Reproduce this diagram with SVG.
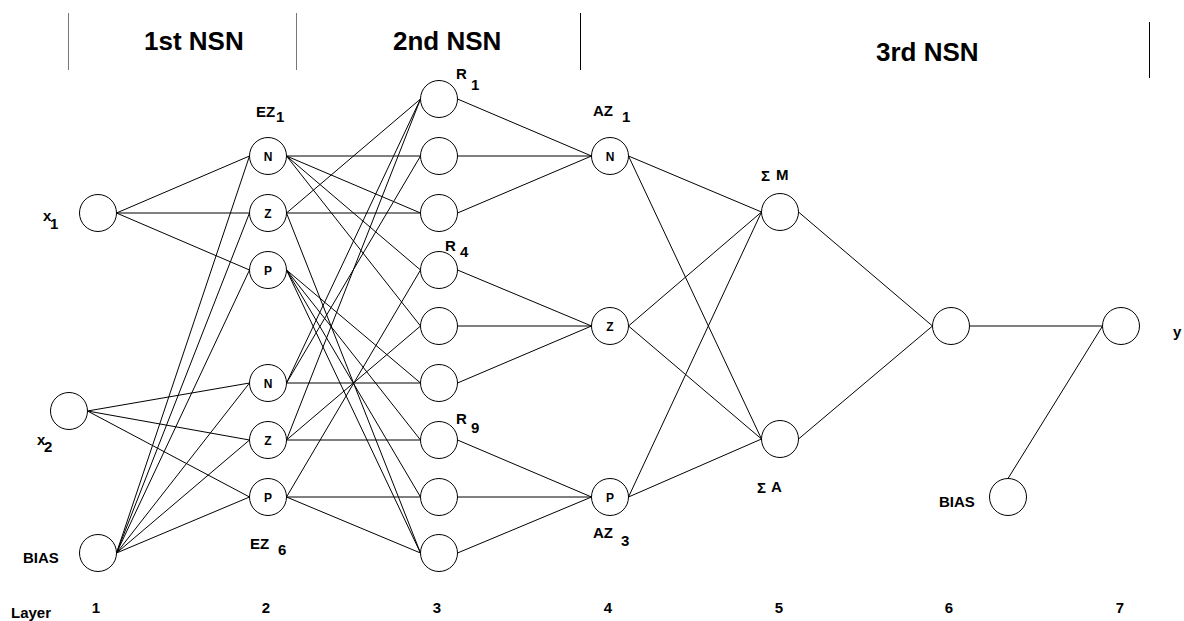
<svg xmlns="http://www.w3.org/2000/svg" width="1184" height="621" viewBox="0 0 1184 621">
  <style>
    .n { fill: #fff; stroke: #000; stroke-width: 1; }
    .c line { stroke: #000; stroke-width: 1; }
    text { font-family: "Liberation Sans", Arial, sans-serif; font-weight: bold; fill: #000; }
    .lb { font-size: 15px; }
    .in { font-size: 12px; text-anchor: middle; }
    .hd { font-size: 26px; }
    .num { font-size: 15px; text-anchor: middle; }
  </style>

  <!-- section dividers and headings -->
  <g id="header">
    <line x1="68.5" y1="13" x2="68.5" y2="70" stroke="#777" stroke-width="1"/>
    <line x1="296.5" y1="13" x2="296.5" y2="70" stroke="#777" stroke-width="1"/>
    <line x1="580.5" y1="13" x2="580.5" y2="70" stroke="#000" stroke-width="1"/>
    <line x1="1149.5" y1="22" x2="1149.5" y2="78" stroke="#000" stroke-width="1"/>
    <text class="hd" x="144" y="50">1st NSN</text>
    <text class="hd" x="393" y="50">2nd NSN</text>
    <text class="hd" x="876" y="61">3rd NSN</text>
  </g>

  <!-- connectors -->
  <g id="connectors" class="c">
    <!-- layer 1 to layer 2 -->
    <line x1="116.5" y1="213" x2="249.5" y2="156"/>
    <line x1="116.5" y1="213" x2="249.5" y2="213"/>
    <line x1="116.5" y1="213" x2="249.5" y2="270"/>
    <line x1="87.5" y1="411" x2="249.5" y2="383"/>
    <line x1="87.5" y1="411" x2="249.5" y2="440"/>
    <line x1="87.5" y1="411" x2="249.5" y2="497"/>
    <line x1="116.5" y1="553" x2="249.5" y2="156"/>
    <line x1="116.5" y1="553" x2="249.5" y2="213"/>
    <line x1="116.5" y1="553" x2="249.5" y2="270"/>
    <line x1="116.5" y1="553" x2="249.5" y2="383"/>
    <line x1="116.5" y1="553" x2="249.5" y2="440"/>
    <line x1="116.5" y1="553" x2="249.5" y2="497"/>
    <!-- layer 2 to layer 3 -->
    <line x1="286.5" y1="156" x2="420.5" y2="156"/>
    <line x1="286.5" y1="156" x2="420.5" y2="213"/>
    <line x1="286.5" y1="156" x2="420.5" y2="270"/>
    <line x1="286.5" y1="156" x2="420.5" y2="326"/>
    <line x1="286.5" y1="213" x2="420.5" y2="99"/>
    <line x1="286.5" y1="213" x2="420.5" y2="213"/>
    <line x1="286.5" y1="213" x2="420.5" y2="553"/>
    <line x1="286.5" y1="270" x2="420.5" y2="383"/>
    <line x1="286.5" y1="270" x2="420.5" y2="440"/>
    <line x1="286.5" y1="270" x2="420.5" y2="497"/>
    <line x1="286.5" y1="270" x2="420.5" y2="553"/>
    <line x1="286.5" y1="383" x2="420.5" y2="99"/>
    <line x1="286.5" y1="383" x2="420.5" y2="156"/>
    <line x1="286.5" y1="383" x2="420.5" y2="383"/>
    <line x1="286.5" y1="440" x2="420.5" y2="99"/>
    <line x1="286.5" y1="440" x2="420.5" y2="326"/>
    <line x1="286.5" y1="440" x2="420.5" y2="440"/>
    <line x1="286.5" y1="497" x2="420.5" y2="270"/>
    <line x1="286.5" y1="497" x2="420.5" y2="497"/>
    <line x1="286.5" y1="497" x2="420.5" y2="553"/>
    <!-- layer 3 to layer 4 -->
    <line x1="457.5" y1="99" x2="591.5" y2="156"/>
    <line x1="457.5" y1="156" x2="591.5" y2="156"/>
    <line x1="457.5" y1="213" x2="591.5" y2="156"/>
    <line x1="457.5" y1="270" x2="591.5" y2="326"/>
    <line x1="457.5" y1="326" x2="591.5" y2="326"/>
    <line x1="457.5" y1="383" x2="591.5" y2="326"/>
    <line x1="457.5" y1="440" x2="591.5" y2="497"/>
    <line x1="457.5" y1="497" x2="591.5" y2="497"/>
    <line x1="457.5" y1="553" x2="591.5" y2="497"/>
    <!-- layer 4 to layer 5 -->
    <line x1="628.5" y1="156" x2="761.5" y2="212"/>
    <line x1="628.5" y1="156" x2="761.5" y2="439"/>
    <line x1="628.5" y1="326" x2="761.5" y2="212"/>
    <line x1="628.5" y1="326" x2="761.5" y2="439"/>
    <line x1="628.5" y1="497" x2="761.5" y2="212"/>
    <line x1="628.5" y1="497" x2="761.5" y2="439"/>
    <!-- layer 5 to layer 6 to layer 7 -->
    <line x1="798.5" y1="212" x2="932.5" y2="326"/>
    <line x1="798.5" y1="439" x2="932.5" y2="326"/>
    <line x1="969.5" y1="326" x2="1102.5" y2="326"/>
    <line x1="1008" y1="478.5" x2="1102.5" y2="326"/>
  </g>

  <!-- layer 1 -->
  <g id="x1"><circle class="n" cx="98" cy="213" r="18.5"/>
    <text class="lb" x="43" y="221">x</text><text class="lb" x="50" y="229">1</text></g>
  <g id="x2"><circle class="n" cx="69" cy="411" r="18.5"/>
    <text class="lb" x="37" y="445">x</text><text class="lb" x="44" y="452">2</text></g>
  <g id="bias1"><circle class="n" cx="98" cy="553" r="18.5"/>
    <text class="lb" x="23" y="563">BIAS</text></g>

  <!-- layer 2 -->
  <g id="ez1n"><circle class="n" cx="268" cy="156" r="18.5"/><text class="in" x="268" y="160.5">N</text>
    <text class="lb" x="256" y="117">EZ</text><text class="lb" x="276" y="122">1</text></g>
  <g id="ez1z"><circle class="n" cx="268" cy="213" r="18.5"/><text class="in" x="268" y="217.5">Z</text></g>
  <g id="ez1p"><circle class="n" cx="268" cy="270" r="18.5"/><text class="in" x="268" y="274.5">P</text></g>
  <g id="ez2n"><circle class="n" cx="268" cy="383" r="18.5"/><text class="in" x="268" y="387.5">N</text></g>
  <g id="ez2z"><circle class="n" cx="268" cy="440" r="18.5"/><text class="in" x="268" y="444.5">Z</text></g>
  <g id="ez2p"><circle class="n" cx="268" cy="497" r="18.5"/><text class="in" x="268" y="501.5">P</text>
    <text class="lb" x="250" y="549">EZ</text><text class="lb" x="278" y="555">6</text></g>

  <!-- layer 3 -->
  <g id="r1"><circle class="n" cx="439" cy="99" r="18.5"/>
    <text class="lb" x="456" y="79">R</text><text class="lb" x="471" y="90">1</text></g>
  <g id="r2"><circle class="n" cx="439" cy="156" r="18.5"/></g>
  <g id="r3"><circle class="n" cx="439" cy="213" r="18.5"/></g>
  <g id="r4"><circle class="n" cx="439" cy="270" r="18.5"/>
    <text class="lb" x="445" y="251">R</text><text class="lb" x="460" y="257">4</text></g>
  <g id="r5"><circle class="n" cx="439" cy="326" r="18.5"/></g>
  <g id="r6"><circle class="n" cx="439" cy="383" r="18.5"/></g>
  <g id="r7"><circle class="n" cx="439" cy="440" r="18.5"/>
    <text class="lb" x="456" y="424">R</text><text class="lb" x="471" y="433">9</text></g>
  <g id="r8"><circle class="n" cx="439" cy="497" r="18.5"/></g>
  <g id="r9"><circle class="n" cx="439" cy="553" r="18.5"/></g>

  <!-- layer 4 -->
  <g id="az1"><circle class="n" cx="610" cy="156" r="18.5"/><text class="in" x="610" y="160.5">N</text>
    <text class="lb" x="593" y="116">AZ</text><text class="lb" x="622" y="122">1</text></g>
  <g id="az2"><circle class="n" cx="610" cy="326" r="18.5"/><text class="in" x="610" y="330.5">Z</text></g>
  <g id="az3"><circle class="n" cx="610" cy="497" r="18.5"/><text class="in" x="610" y="501.5">P</text>
    <text class="lb" x="593" y="538">AZ</text><text class="lb" x="621" y="546">3</text></g>

  <!-- layer 5 -->
  <g id="sum-m"><circle class="n" cx="780" cy="212" r="18.5"/>
    <text class="lb" x="761" y="181">Σ</text><text class="lb" x="776" y="180">M</text></g>
  <g id="sum-a"><circle class="n" cx="780" cy="439" r="18.5"/>
    <text class="lb" x="757" y="493">Σ</text><text class="lb" x="771" y="492">A</text></g>

  <!-- layer 6 -->
  <g id="l6"><circle class="n" cx="951" cy="326" r="18.5"/></g>
  <g id="bias6"><circle class="n" cx="1008" cy="497" r="18.5"/>
    <text class="lb" x="939" y="507">BIAS</text></g>

  <!-- layer 7 -->
  <g id="out"><circle class="n" cx="1121" cy="326" r="18.5"/>
    <text class="lb" x="1173" y="337">y</text></g>

  <!-- layer index -->
  <g id="layers">
    <text class="lb" x="11" y="618">Layer</text>
    <text class="num" x="96" y="613">1</text>
    <text class="num" x="266" y="613">2</text>
    <text class="num" x="437" y="613">3</text>
    <text class="num" x="608" y="613">4</text>
    <text class="num" x="779" y="613">5</text>
    <text class="num" x="949" y="613">6</text>
    <text class="num" x="1120" y="613">7</text>
  </g>
</svg>
